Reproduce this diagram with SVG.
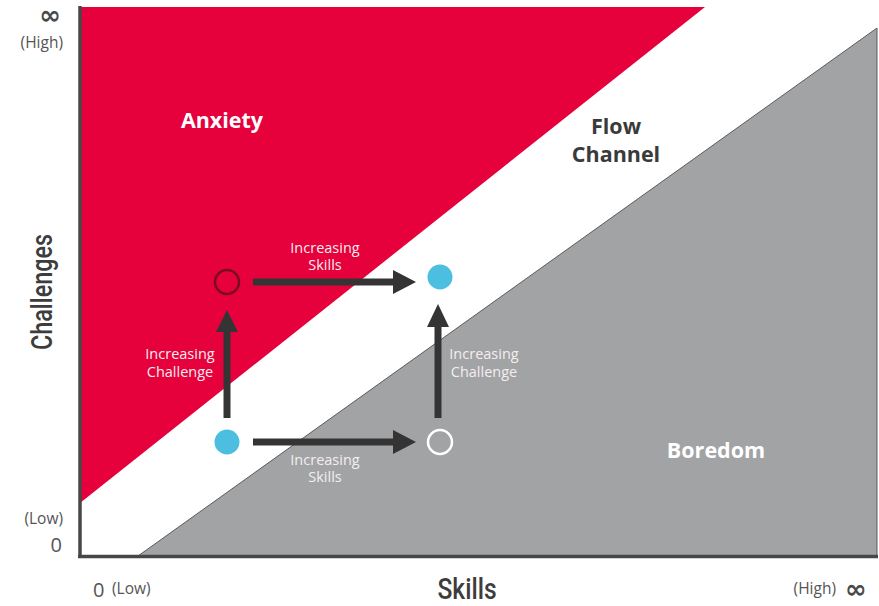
<svg xmlns="http://www.w3.org/2000/svg" width="879" height="606" viewBox="0 0 879 606">
<style>
.ax{font-family:"Open Sans","Noto Sans",sans-serif;fill:#555;}
.inf{font-family:"DejaVu Sans",sans-serif;font-weight:bold;fill:#4a4a4a;font-size:26px;}
.big{font-family:Roboto,"Liberation Sans",sans-serif;font-weight:500;fill:#3d3d3d;font-size:30px;}
.zone{font-family:"Open Sans","Noto Sans",sans-serif;font-weight:bold;font-size:21.5px;text-anchor:middle;}
.lbl{font-family:"Open Sans","Noto Sans",sans-serif;font-size:14.5px;fill:#f4eeee;text-anchor:middle;}
.arr{stroke:#343434;stroke-width:7;fill:none;}
.head{fill:#343434;}
</style>
<rect width="879" height="606" fill="#fff"/>
<g id="regions">
<polygon id="anxiety-zone" points="80,7 705,7 80,503" fill="#e6003c"/>
<polygon id="boredom-zone" points="138,556 877,28 877,556" fill="#a2a3a5" stroke="#5a5a5a" stroke-width="1"/>
</g>
<g id="axes">
<line x1="80" y1="6" x2="80" y2="557" stroke="#474747" stroke-width="3.5"/>
<line x1="78" y1="556.5" x2="878" y2="556.5" stroke="#474747" stroke-width="3.5"/>
</g>
<g id="axis-labels">
<text class="inf" x="61" y="24" text-anchor="end">∞</text>
<text class="ax" x="63" y="48" font-size="15.5" text-anchor="end">(High)</text>
<text class="ax" x="63" y="524" font-size="15.5" text-anchor="end">(Low)</text>
<text class="ax" x="62" y="552" font-size="20" text-anchor="end">0</text>
<text class="ax" x="93" y="597" font-size="20">0</text>
<text class="ax" x="112" y="594" font-size="15.5">(Low)</text>
<text class="ax" x="836" y="594" font-size="15.5" text-anchor="end">(High)</text>
<text class="inf" x="845" y="598">∞</text>
<text class="big" transform="translate(52,292) rotate(-90) scale(0.78,1)" text-anchor="middle">Challenges</text>
<text class="big" transform="translate(467,599) scale(0.82,1)" text-anchor="middle">Skills</text>
</g>
<g id="zone-labels">
<text id="anxiety" class="zone" x="222" y="128" fill="#fff">Anxiety</text>
<text id="flow-channel" class="zone" fill="#3a3a3a"><tspan x="616" y="134">Flow</tspan><tspan x="616" y="162">Channel</tspan></text>
<text id="boredom" class="zone" x="716" y="458" fill="#fff">Boredom</text>
</g>
<g id="connectors">
<line class="arr" x1="253" y1="282" x2="395" y2="282"/>
<polygon class="head" points="393,270 416,282 393,294"/>
<line class="arr" x1="253" y1="442" x2="395" y2="442"/>
<polygon class="head" points="393,430 416,442 393,454"/>
<line class="arr" x1="227" y1="418" x2="227" y2="330"/>
<polygon class="head" points="216,332 227,310 238,332"/>
<line class="arr" x1="438" y1="418" x2="438" y2="325"/>
<polygon class="head" points="427,327 438,304 449,327"/>
</g>
<g id="connector-labels">
<text class="lbl"><tspan x="325" y="253">Increasing</tspan><tspan x="325" y="270">Skills</tspan></text>
<text class="lbl"><tspan x="325" y="465">Increasing</tspan><tspan x="325" y="482">Skills</tspan></text>
<text class="lbl"><tspan x="180" y="359">Increasing</tspan><tspan x="180" y="377">Challenge</tspan></text>
<text class="lbl"><tspan x="484" y="359">Increasing</tspan><tspan x="484" y="377">Challenge</tspan></text>
</g>
<g id="node-tl"><circle cx="227" cy="282" r="12" fill="none" stroke="#7a0c22" stroke-width="2.5"/></g>
<g id="node-tr"><circle cx="440" cy="277" r="12.5" fill="#4cbfe0"/></g>
<g id="node-bl"><circle cx="227" cy="442" r="12.5" fill="#4cbfe0"/></g>
<g id="node-br"><circle cx="440" cy="442" r="12" fill="none" stroke="#fff" stroke-width="2.5"/></g>
</svg>
